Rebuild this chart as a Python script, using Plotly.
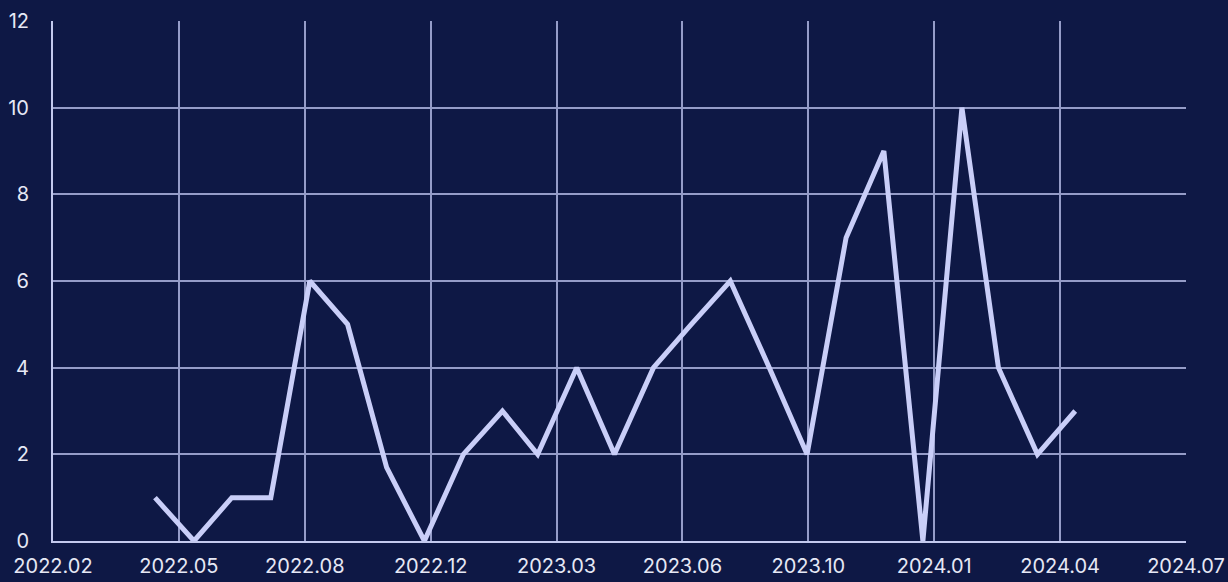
import plotly.graph_objects as go

# monthly values, May 2022 .. May 2024
months = [
    "2022-05-01", "2022-06-01", "2022-07-01", "2022-08-01", "2022-09-01",
    "2022-10-01", "2022-11-01", "2022-12-01", "2023-01-01", "2023-02-01",
    "2023-03-01", "2023-04-01", "2023-05-01", "2023-06-01", "2023-07-01",
    "2023-08-01", "2023-09-01", "2023-10-01", "2023-11-01", "2023-12-01",
    "2024-01-01", "2024-02-01", "2024-03-01", "2024-04-01", "2024-05-01",
]
values = [1, 0, 1, 1, 6, 5, 1.7, 0, 2, 3, 2, 4, 2, 4, 5, 6, 4, 2, 7, 9, 0, 10, 4, 2, 3]

# x ticks sit every 100 days
tick_dates = [
    "2022-02-09", "2022-05-20", "2022-08-28", "2022-12-06", "2023-03-16",
    "2023-06-24", "2023-10-02", "2024-01-10", "2024-04-19", "2024-07-28",
]
tick_labels = [
    "2022.02", "2022.05", "2022.08", "2022.12", "2023.03",
    "2023.06", "2023.10", "2024.01", "2024.04", "2024.07",
]
y_ticks = [0, 2, 4, 6, 8, 10, 12]

bg = "#0e1845"
grid = "#959cc8"

fig = go.Figure()

fig.add_trace(
    go.Scatter(
        x=months,
        y=values,
        mode="lines",
        line=dict(color="#c9cef8", width=5),
        showlegend=False,
        hoverinfo="skip",
    )
)

fig.update_layout(
    width=1228,
    height=582,
    paper_bgcolor=bg,
    plot_bgcolor=bg,
    margin=dict(l=53, r=42, t=21, b=41),
    font=dict(family="Inter", size=20, color="#e6e8f5"),
)

fig.update_xaxes(
    type="date",
    range=[tick_dates[0], tick_dates[-1]],
    tickvals=tick_dates,
    ticktext=tick_labels,
    automargin=False,
    showgrid=True,
    gridcolor=grid,
    gridwidth=1.5,
    zeroline=False,
    showline=True,
    linecolor="#c3c9ee",
    linewidth=2,
    ticks="outside",
    ticklen=6,
    tickcolor=bg,
)

fig.update_yaxes(
    range=[0, 12],
    tickvals=y_ticks,
    automargin=False,
    showgrid=True,
    gridcolor=grid,
    gridwidth=1.5,
    zeroline=False,
    showline=True,
    linecolor="#c3c9ee",
    linewidth=2,
    ticks="outside",
    ticklen=18,
    tickcolor=bg,
)

# drop the default page margin so the chart fills the window
fig.write_html(
    "out.html",
    config={"displayModeBar": False},
    post_script="document.body.style.margin='0';document.body.style.background='%s';" % bg,
)
